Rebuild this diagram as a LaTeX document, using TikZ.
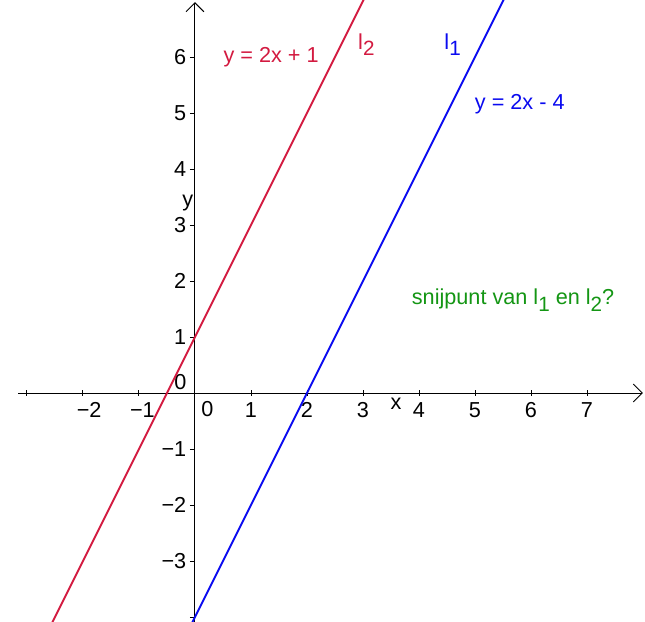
\documentclass[tikz,border=0pt]{standalone}
\usepackage{fontspec}
\setmainfont{Liberation Sans}
\usetikzlibrary{arrows.meta}
\definecolor{lred}{RGB}{211,26,64}
\definecolor{lblue}{RGB}{10,10,240}
\definecolor{lgreen}{RGB}{20,150,20}
\newcommand{\sbs}[1]{\raisebox{-0.55ex}{\fontsize{10.5pt}{11pt}\selectfont #1}}
\begin{document}
\begin{tikzpicture}[x=1cm,y=1cm,font=\fontsize{11pt}{12pt}\selectfont,
  axis/.style={line width=0.5pt,-{Straight Barb[length=1.6mm,width=3.2mm]}},
  gline/.style={line width=1pt},
  tlab/.style={inner sep=0pt}]
\useasboundingbox (-3.482,-4.089) rectangle (8.036,7.018);
\fill[white] (-3.482,-4.089) rectangle (8.036,7.018);
% axes
\coordinate (xs) at (-3.16,0);
\coordinate (xe) at (8.0,0);
\coordinate (ys) at (0,-4.089);
\coordinate (ye) at (0,6.98);
\draw[axis] (xs) -- (xe);
\draw[axis] (ys) -- (ye);
% ticks
\foreach \i in {-3,-2,-1,1,2,3,4,5,6,7} \draw[line width=0.5pt] (\i,0.05) -- (\i,-0.05);
\foreach \j in {-4,-3,-2,-1,1,2,3,4,5,6} \draw[line width=0.5pt] (-0.09,\j) -- (0,\j);
% x labels
\foreach \i/\p in {-2/-1.89,-1/-0.94,1/1,2/2,3/3,4/4,5/5,6/6,7/7}
  \node[tlab] (xl\i) at (\p,-0.31) {\ifnum\i<0 −\number\numexpr-\i\relax\else\i\fi};
% y labels
\foreach \j in {1,...,6} \node[tlab,anchor=east] (yl\j) at (-0.15,\j) {\j};
\foreach \j in {1,2,3} \node[tlab,anchor=east] (ylm\j) at (-0.15,-\j) {−\j};
\node[tlab] (o1) at (-0.26,0.2) {0};
\node[tlab] (o2) at (0.22,-0.29) {0};
\node[tlab] (ylab) at (-0.13,3.4) {y};
\node[tlab] (xlab) at (3.59,-0.19) {x};
% lines
\begin{scope}
\clip (-3.482,-4.089) rectangle (8.036,7.018);
\draw[gline,lred] (-2.6,-4.2) -- (3.1,7.2);
\draw[gline,lblue] (-0.06,-4.12) -- (5.54,7.08);
\end{scope}
\node[tlab,lred] (eq2) at (1.36,6.0) {y = 2x + 1};
\node[tlab,lred] (n2) at (3.06,6.22) {l\sbs{2}};
\node[tlab,lblue] (n1) at (4.6,6.22) {l\sbs{1}};
\node[tlab,lblue] (eq1) at (5.8,5.16) {y = 2x - 4};
\node[tlab,lgreen] (q) at (5.68,1.66) {snijpunt van l\sbs{1} en l\sbs{2}?};
\end{tikzpicture}
\end{document}
